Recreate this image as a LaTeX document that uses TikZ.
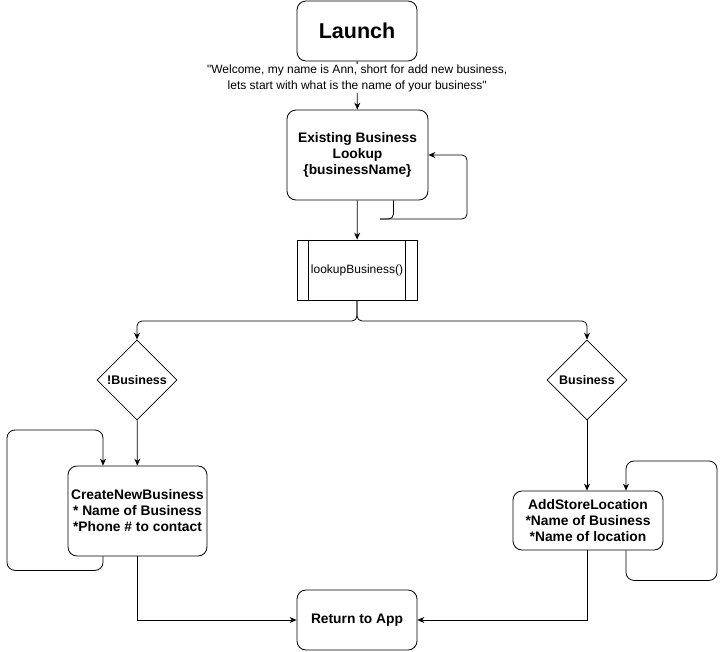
\documentclass[tikz,border=0pt]{standalone}
\usepackage{fontspec}
\setmainfont{Liberation Sans}
\usetikzlibrary{
    arrows.meta,
    shapes.geometric,
    positioning
}

\begin{document}
\begin{tikzpicture}[x=1pt, y=-1pt, line width=0.8pt,
    box/.style={draw, rounded corners=9pt, align=center, inner sep=2pt,
        font=\fontsize{13.8}{16}\selectfont\bfseries},
    cond/.style={draw, diamond, minimum size=80pt, inner sep=0pt,
        font=\fontsize{12.5}{14}\selectfont\bfseries},
    arr/.style={-{Stealth[length=7pt, width=6pt]}}]
                        \useasboundingbox (0, 0) rectangle (726, 651);

                        % boxes
                        \node[box, minimum width=120pt, minimum height=60pt, font=\fontsize{21.5}{24}\selectfont\bfseries]
                        (launch) at (357, 31) {Launch};
                        \node[box, minimum width=141pt, minimum height=90pt]
                        (exist) at (357.5, 155) {Existing Business\\Lookup\\\{businessName\}};
                        \node[draw, minimum width=120pt, minimum height=60pt, font=\fontsize{12}{16}\selectfont]
                        (lookup) at (357, 270) {lookupBusiness()};
                        \draw
                        ([xshift=12pt]lookup.north west) -- ([xshift=12pt]lookup.south west)
                        ([xshift=-12pt]lookup.north east) -- ([xshift=-12pt]lookup.south east);

                        \node[cond] (nobiz) at (137, 380) {!Business};
                        \node[cond] (biz) at (587, 380) {Business};

                        \node[box, minimum width=139pt, minimum height=90pt]
                        (create) at (137.5, 511) {CreateNewBusiness\\* Name of Business\\*Phone \# to contact};
                        \node[box, minimum width=150pt, minimum height=59pt]
                        (store) at (588, 520.5) {AddStoreLocation\\*Name of Business\\*Name of location};
                        \node[box, minimum width=120pt, minimum height=60pt]
                        (ret) at (357, 620) {Return to App};

                        % connectors
                        \draw[arr] (launch) -- node[pos=0.35, fill=white, inner sep=1pt, align=center,
                            font=\fontsize{12}{16}\selectfont]
                        {\textquotedbl Welcome, my name is Ann, short for add new business,\\lets start with what is the name of your business\textquotedbl} (exist);

                        \draw[rounded corners=5pt] ([xshift=36pt]exist.south) |- (380, 219);
                        \draw[arr, rounded corners=5pt] (380, 219) -- (467, 219) |- (exist.east);

                        \draw[arr] (exist) -- (lookup);
                        \draw[arr, rounded corners=5pt] (lookup.south) |- (137, 321) -- (nobiz.north);
                        \draw[arr, rounded corners=5pt] (lookup.south) |- (587, 321) -- (biz.north);

                        \draw[arr] (nobiz) -- (create);
                        \draw[arr] (biz) -- (store.north -| biz);

                        \draw[arr, rounded corners=8pt] ([xshift=-34.5pt]create.south) -- ++(0, 14) -| (7, 430) -| ([xshift=-34.5pt]create.north);
                        \draw[arr, rounded corners=8pt] ([xshift=38pt]store.south) -- ++(0, 30) -| (717, 461) -| ([xshift=38pt]store.north);

                        \draw[arr] (create.south) |- (ret.west);
                        \draw[arr] (store.south -| biz) |- (ret.east);
                    \end{tikzpicture}
\end{document}
